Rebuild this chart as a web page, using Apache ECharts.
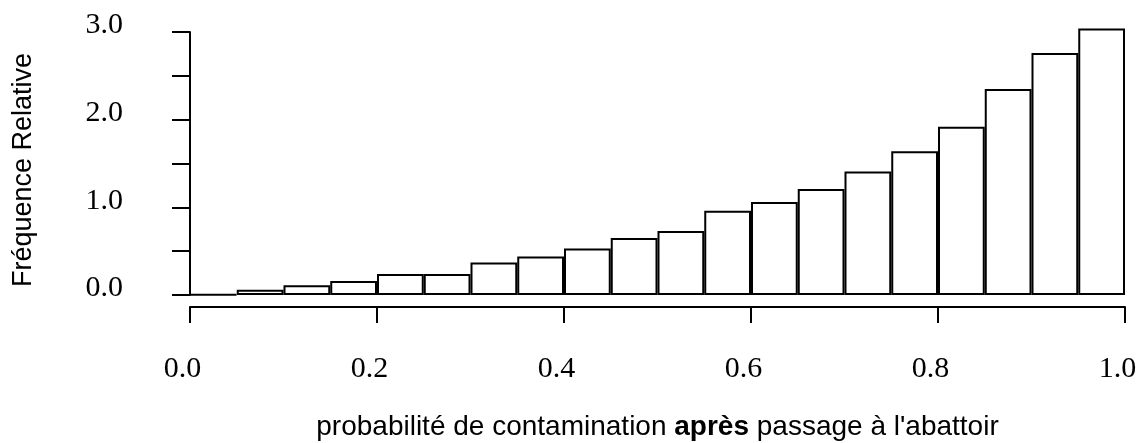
<!DOCTYPE html>
<html>
<head>
<meta charset="utf-8">
<script src="https://cdn.jsdelivr.net/npm/echarts@6/dist/echarts.min.js"></script>
<style>
    html, body { margin: 0; padding: 0; background: #fff; }
    #chart { width: 1145px; height: 443px; }
</style>
</head>
<body>
<div id="chart"></div>
<script>
    // bins of width 0.05 from 0 to 1
    var binLabels = ['0.00', '0.05', '0.10', '0.15', '0.20', '0.25', '0.30', '0.35', '0.40', '0.45',
        '0.50', '0.55', '0.60', '0.65', '0.70', '0.75', '0.80', '0.85', '0.90', '0.95'];
    // relative frequency (density)
    var freqValues = [0.005, 0.06, 0.11, 0.16, 0.24, 0.24, 0.37, 0.44, 0.53, 0.65,
        0.73, 0.96, 1.06, 1.21, 1.41, 1.64, 1.92, 2.35, 2.76, 3.04];
    var xTickLabels = ['0.0', '0.2', '0.4', '0.6', '0.8', '1.0'];
    var yTickLabels = ['0.0', '1.0', '2.0', '3.0'];

    var serif = 'Liberation Serif';
    var sans = 'Liberation Sans';

    var myChart = echarts.init(document.getElementById('chart'));

    var option = {
        backgroundColor: '#fff',
        animation: false,
        grid: {left: 190, right: 20, top: 32, bottom: 148, outerBoundsMode: 'none', containLabel: false},
        xAxis: [
            {
                type: 'category',
                position: 'bottom',
                data: binLabels,
                boundaryGap: true,
                show: false
            },
            {
                type: 'value',
                position: 'bottom',
                offset: 12,
                min: 0,
                max: 1,
                interval: 0.2,
                splitLine: {show: false},
                axisLine: {show: true, lineStyle: {color: '#000', width: 2}},
                axisTick: {show: true, length: 16, lineStyle: {color: '#000', width: 2}},
                axisLabel: {
                    margin: 47,
                    color: '#000',
                    fontFamily: serif,
                    fontSize: 30,
                    padding: [0, 15, 0, 0],
                    formatter: function (v) {
                        return xTickLabels[Math.round(v / 0.2)];
                    }
                },
                name: 'probabilité de contamination {b|après} passage à l\'abattoir',
                nameLocation: 'middle',
                nameGap: 106,
                nameTextStyle: {
                    color: '#000',
                    fontFamily: sans,
                    fontSize: 28,
                    rich: {
                        b: {fontFamily: sans, fontSize: 28, fontWeight: 'bold', color: '#000'}
                    }
                }
            }
        ],
        yAxis: {
            type: 'value',
            position: 'left',
            offset: 38,
            min: 0,
            max: 3,
            interval: 0.5,
            splitLine: {show: false},
            axisLine: {show: true, lineStyle: {color: '#000', width: 2}},
            axisTick: {show: true, length: 18, lineStyle: {color: '#000', width: 2}},
            axisLabel: {
                margin: 29,
                color: '#000',
                fontFamily: serif,
                fontSize: 30,
                verticalAlign: 'bottom',
                lineHeight: 13,
                formatter: function (v) {
                    return v % 1 === 0 ? yTickLabels[v] : '';
                }
            },
            name: 'Fréquence Relative',
            nameLocation: 'middle',
            nameRotate: 90,
            nameGap: 115,
            nameTextStyle: {
                color: '#000',
                fontFamily: sans,
                fontSize: 27,
                padding: [0, 13, 0, 0]
            }
        },
        series: [
            {
                type: 'bar',
                xAxisIndex: 0,
                yAxisIndex: 0,
                data: freqValues,
                barCategoryGap: 0,
                clip: false,
                itemStyle: {color: '#fff', borderColor: '#000', borderWidth: 2}
            }
        ]
    };

    myChart.setOption(option);
</script>
</body>
</html>
